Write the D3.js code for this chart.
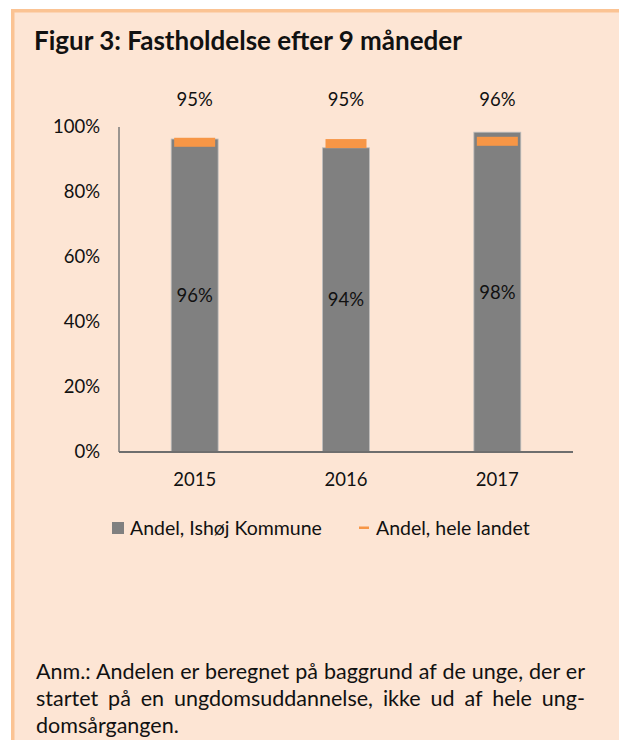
<!DOCTYPE html>
<html>
<head>
<meta charset="utf-8">
<script src="https://cdn.jsdelivr.net/npm/d3@7"></script>
<style>
  html, body { margin: 0; padding: 0; background: #ffffff; }
  svg { display: block; }
  text { font-family: Lato, "Open Sans", sans-serif; fill: #111; }
</style>
</head>
<body>
<script>
const years = ["2015", "2016", "2017"];
const ishoj = [0.963, 0.936, 0.984];
const landet = [0.953, 0.949, 0.956];
const yTicks = [0, 0.2, 0.4, 0.6, 0.8, 1.0];
const seriesNames = ["Andel, Ishøj Kommune", "Andel, hele landet"];
const titleText = "Figur 3: Fastholdelse efter 9 måneder";
const noteLines = [
  "Anm.: Andelen er beregnet på baggrund af de unge, der er",
  "startet på en ungdomsuddannelse, ikke ud af hele ung-",
  "domsårgangen."
];

const W = 619, H = 740;
const svg = d3.select("body").append("svg").attr("width", W).attr("height", H);

// panel background and border
svg.append("rect").attr("x", 11).attr("y", 9).attr("width", W - 11).attr("height", H - 9).attr("fill", "#FDE5D4");
svg.append("rect").attr("x", 11).attr("y", 9).attr("width", W - 11).attr("height", 3.5).attr("fill", "#FBC393");
svg.append("rect").attr("x", 11).attr("y", 9).attr("width", 3.5).attr("height", H - 9).attr("fill", "#FBC393");

// title
svg.append("text").attr("x", 34).attr("y", 50)
  .style("font-size", "26px").style("font-weight", "bold")
  .text(titleText);

const x = d3.scaleBand().domain(years).range([119, 573]).paddingInner(0.69).paddingOuter(0.345);
const y = d3.scaleLinear().domain([0, 1]).range([452, 127]);
const pct = d3.format(".0%");
const fs = "18.5px";

// y labels
svg.append("g").selectAll("text").data(yTicks).join("text")
  .attr("x", 100).attr("y", d => y(d)).attr("dy", "0.35em")
  .attr("text-anchor", "end").style("font-size", fs)
  .text(d => pct(d));

// bars
svg.append("g").selectAll("rect").data(years).join("rect")
  .attr("x", d => x(d)).attr("width", x.bandwidth())
  .attr("y", (d, i) => y(ishoj[i])).attr("height", (d, i) => y(0) - y(ishoj[i]))
  .attr("fill", "#808080").attr("stroke", "#BDBDBD").attr("stroke-width", 0.8);

// inside labels
svg.append("g").selectAll("text").data(years).join("text")
  .attr("x", d => x(d) + x.bandwidth() / 2)
  .attr("y", (d, i) => (y(ishoj[i]) + y(0)) / 2).attr("dy", "0.35em")
  .attr("text-anchor", "middle").style("font-size", fs)
  .text((d, i) => pct(ishoj[i]));

// national markers
const mw = 41, mh = 9;
svg.append("g").selectAll("rect").data(years).join("rect")
  .attr("x", d => x(d) + x.bandwidth() / 2 - mw / 2).attr("width", mw)
  .attr("y", (d, i) => y(landet[i]) - mh / 2).attr("height", mh)
  .attr("fill", "#F79646");

// national labels above plot
svg.append("g").selectAll("text").data(years).join("text")
  .attr("x", d => x(d) + x.bandwidth() / 2).attr("y", 100).attr("dy", "0.35em")
  .attr("text-anchor", "middle").style("font-size", fs)
  .text((d, i) => pct(landet[i]));

// axes lines
svg.append("line").attr("x1", 119).attr("x2", 119).attr("y1", y(1)).attr("y2", y(0))
  .attr("stroke", "#7a7a7a").attr("stroke-width", 1.5);
svg.append("line").attr("x1", 119).attr("x2", 573).attr("y1", y(0)).attr("y2", y(0))
  .attr("stroke", "#6e6e6e").attr("stroke-width", 1.8);

// x labels
svg.append("g").selectAll("text").data(years).join("text")
  .attr("x", d => x(d) + x.bandwidth() / 2).attr("y", 486)
  .attr("text-anchor", "middle").style("font-size", fs)
  .text(d => d);

// legend
svg.append("rect").attr("x", 112).attr("y", 522).attr("width", 12).attr("height", 12).attr("fill", "#808080");
svg.append("text").attr("x", 130).attr("y", 528).attr("dy", "0.35em").style("font-size", "19.5px").text(seriesNames[0]);
svg.append("rect").attr("x", 359).attr("y", 526.5).attr("width", 10).attr("height", 2.5).attr("fill", "#F79646");
svg.append("text").attr("x", 376).attr("y", 528).attr("dy", "0.35em").style("font-size", "19.5px").text(seriesNames[1]);

// footnote (justified by word spacing)
const noteY = [679, 706, 733];
noteLines.forEach((t, i) => {
  const el = svg.append("text").attr("x", 36).attr("y", noteY[i]).style("font-size", "21.5px").text(t);
  if (i < 2) {
    const len = el.node().getComputedTextLength();
    const spaces = (t.match(/ /g) || []).length;
    const ws = (549 - len) / spaces;
    if (ws > 0) el.style("word-spacing", ws + "px");
    else el.attr("textLength", 549).attr("lengthAdjust", "spacingAndGlyphs");
  }
});
</script>
</body>
</html>
